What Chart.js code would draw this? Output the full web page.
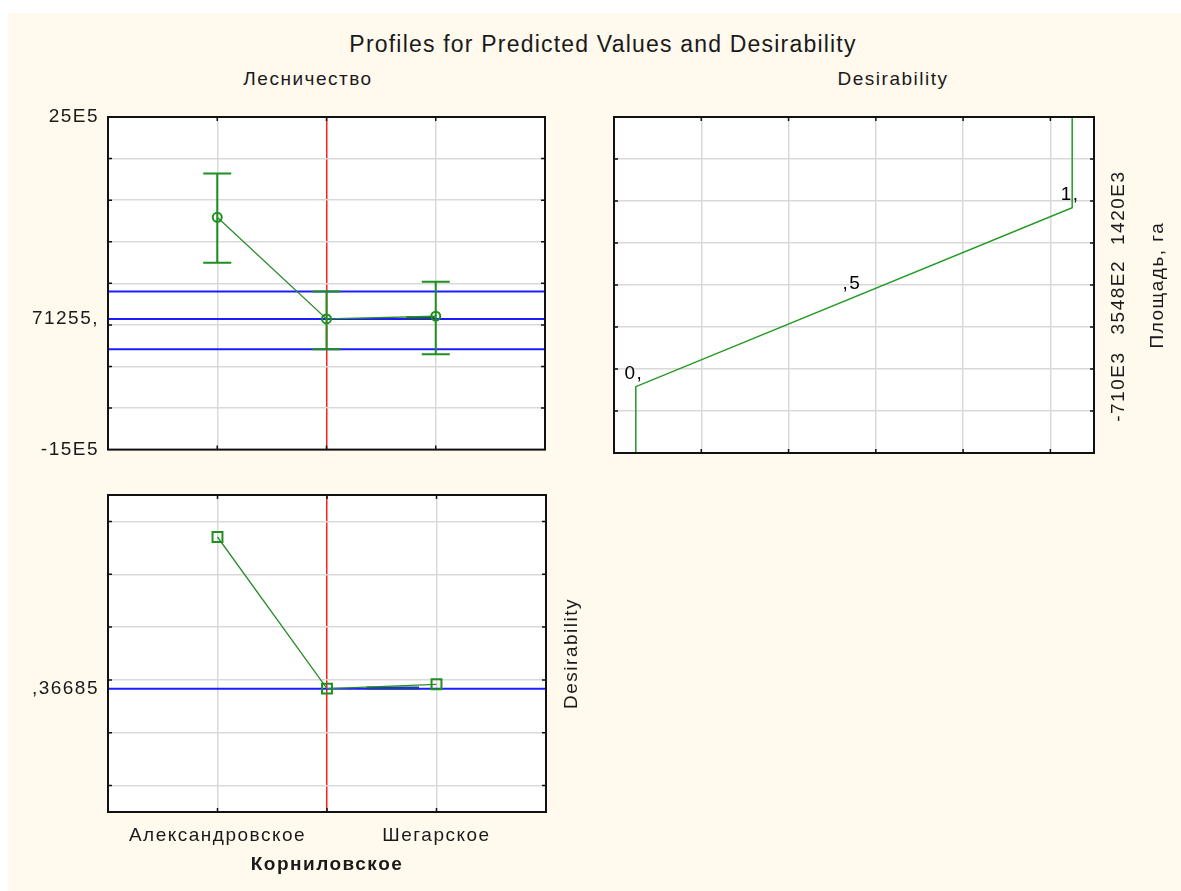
<!DOCTYPE html>
<html>
<head>
<meta charset="utf-8">
<title>Profiles for Predicted Values and Desirability</title>
<script src="https://cdn.jsdelivr.net/npm/chart.js@4.4.1/dist/chart.umd.min.js"></script>
<style>
  html, body { margin: 0; padding: 0; background: #fff; width: 1181px; height: 891px; overflow: hidden; }
  #bg { position: absolute; left: 8px; top: 13px; right: 0; bottom: 0; background: #fff9ee; }
  canvas { position: absolute; }
  .txt { position: absolute; transform: translateX(-50%); white-space: nowrap;
         font-family: "Liberation Sans", Arial, sans-serif; color: #1a1a1a; }
</style>
</head>
<body>
<div id="bg"></div>
<div class="txt" style="left:603px; top:31px; font-size:23px; letter-spacing:1.2px;">Profiles for Predicted Values and Desirability</div>
<div class="txt" style="left:308px; top:68px; font-size:19px; letter-spacing:1.5px;">Лесничество</div>
<div class="txt" style="left:893px; top:68px; font-size:19px; letter-spacing:1.5px;">Desirability</div>
<canvas id="areaChart" width="600" height="470" style="left:0; top:0;"></canvas>
<canvas id="funcChart" width="581" height="470" style="left:600px; top:0;"></canvas>
<canvas id="desirChart" width="600" height="421" style="left:0; top:470px;"></canvas>
<script>
// categories of Лесничество, placed at 1..3 on a 0..4 axis
const categories = ["Александровское", "Корниловское", "Шегарское"];
const catX = [1, 2, 3];
const xMin = 0, xMax = 4;
const currentIdx = 1; // Корниловское is the current level

// Площадь, га : predicted values with confidence limits
const predicted = [1294000, 71255, 104000];
const predLow = [746000, -292000, -354000];
const predHigh = [1821000, 402000, 520000];
const areaMin = -1500000, areaMax = 2500000;
const areaGrid = [-1500000, -1000000, -500000, 0, 500000, 1000000, 1500000, 2000000, 2500000];
const areaTickLabels = { "-1500000": "-15E5", "71255": "71255,", "2500000": "25E5" };

// Desirability of each level
const desirability = [0.941, 0.36685, 0.3835];
const desirMin = -0.1, desirMax = 1.1;
const desirGrid = [0, 0.2, 0.4, 0.6, 0.8, 1.0];
const desirTickLabels = { "0.36685": ",36685" };

// desirability function (desirability vs площадь)
const dfD = [0, 0, 1, 1];
const dfArea = [-1500000, -710000, 1420000, 2500000];
const dfMarkD = [0, 0.5, 1];
const dfMarkArea = [-710000, 354800, 1420000];
const dfMarkText = ["0,", ",5", "1,"];
const dfAxisMin = -0.05, dfAxisMax = 1.05;
const dfGrid = [0.15, 0.35, 0.55, 0.75, 0.95];
const areaRightLabels = ["-710E3", "3548E2", "1420E3"];

// short overlapping line pieces near Шегарское
const stubTopX = [2.73, 2.99], stubTopY = [85000, 85000];
const stubBotX = [2.36, 2.84], stubBotY = [0.369, 0.369];

const FONT = '"Liberation Sans", Arial, sans-serif';
const TEXT = "#1a1a1a";
const GREEN = "#2b8c2b";
const BAR_GREEN = "#1f8f1f";
const BLUE = "#1c1cff";
const RED = "#ff1f1f";
const GRID = "#d9d9d9";
const NONE = "rgba(0,0,0,0)";

Chart.defaults.font.family = FONT;
Chart.defaults.font.size = 19;
Chart.defaults.color = TEXT;

function xy(xs, ys) { return xs.map((x, i) => ({ x, y: ys[i] })); }
function hline(y, x0, x1) { return [{ x: x0, y }, { x: x1, y }]; }

const canvasSetup = {
  id: "canvasSetup",
  beforeDraw(chart) {
    const { ctx, chartArea: a } = chart;
    ctx.letterSpacing = "1.5px";
    ctx.save();
    ctx.fillStyle = "#ffffff";
    ctx.fillRect(a.left, a.top, a.right - a.left, a.bottom - a.top);
    ctx.restore();
  }
};

// black frame with small inward ticks at grid lines
const frame = {
  id: "frame",
  afterDraw(chart, args, opts) {
    const { ctx, chartArea: a, scales } = chart;
    ctx.save();
    ctx.strokeStyle = "#111";
    ctx.lineWidth = 1.5;
    ctx.beginPath();
    (opts.xTicks || []).forEach(v => {
      const px = scales.x.getPixelForValue(v);
      ctx.moveTo(px, a.top); ctx.lineTo(px, a.top + 4);
      ctx.moveTo(px, a.bottom); ctx.lineTo(px, a.bottom - 4);
    });
    (opts.yTicks || []).forEach(v => {
      const py = scales.y.getPixelForValue(v);
      ctx.moveTo(a.left, py); ctx.lineTo(a.left + 4, py);
      ctx.moveTo(a.right, py); ctx.lineTo(a.right - 4, py);
    });
    ctx.stroke();
    ctx.lineWidth = 2;
    ctx.strokeRect(a.left, a.top, a.right - a.left, a.bottom - a.top);
    ctx.restore();
  }
};

// vertical confidence bars, drawn right after the blue lines
const errorBars = {
  id: "errorBars",
  afterDatasetDraw(chart, args, opts) {
    if (!chart.data.datasets[args.index].barsAfter || !opts.x) return;
    const { ctx, scales: { x, y } } = chart;
    ctx.save();
    ctx.strokeStyle = BAR_GREEN;
    ctx.lineWidth = 2;
    ctx.beginPath();
    opts.x.forEach((xv, i) => {
      const px = x.getPixelForValue(xv);
      const top = y.getPixelForValue(opts.high[i]);
      const bot = y.getPixelForValue(opts.low[i]);
      ctx.moveTo(px, top); ctx.lineTo(px, bot);
      ctx.moveTo(px - 14, top); ctx.lineTo(px + 14, top);
      ctx.moveTo(px - 14, bot); ctx.lineTo(px + 14, bot);
    });
    ctx.stroke();
    ctx.restore();
  }
};

// free texts: rotated axis labels and the desirability marks
const notes = {
  id: "notes",
  afterDraw(chart, args, opts) {
    const { ctx, chartArea: a, scales } = chart;
    (opts.items || []).forEach(it => {
      ctx.save();
      ctx.font = (it.weight || "normal") + " " + (it.size || 19) + "px " + FONT;
      ctx.fillStyle = it.color || TEXT;
      ctx.textAlign = "center";
      ctx.textBaseline = "middle";
      const px = it.xv !== undefined ? scales.x.getPixelForValue(it.xv) : a.right;
      const py = it.yv !== undefined ? scales.y.getPixelForValue(it.yv) : (a.top + a.bottom) / 2;
      ctx.translate(px + (it.dx || 0), py + (it.dy || 0));
      if (it.rotate) ctx.rotate(-Math.PI / 2);
      ctx.fillText(it.text, 0, 0);
      ctx.restore();
    });
  }
};

const common = {
  responsive: false,
  animation: false,
  events: []
};

// ---- Площадь vs Лесничество ----
new Chart(document.getElementById("areaChart"), {
  type: "line",
  data: {
    datasets: [
      { data: xy(catX, predicted), borderColor: GREEN, borderWidth: 1.3, tension: 0,
        pointStyle: "circle", pointRadius: 4.5, pointBorderWidth: 2,
        pointBorderColor: BAR_GREEN, pointBackgroundColor: NONE, order: 0 },
      { data: xy(stubTopX, stubTopY), borderColor: "#1b4a5e", borderWidth: 3, pointRadius: 0, order: 1 },
      { data: hline(predHigh[currentIdx], xMin, xMax), borderColor: BLUE, borderWidth: 2, pointRadius: 0, order: 4 },
      { data: hline(predicted[currentIdx], xMin, xMax), borderColor: BLUE, borderWidth: 2, pointRadius: 0, order: 3 },
      { data: hline(predLow[currentIdx], xMin, xMax), borderColor: BLUE, borderWidth: 2, pointRadius: 0, order: 2, barsAfter: true }
    ]
  },
  options: {
    ...common,
    layout: { padding: { top: 117, right: 55, bottom: 17, left: 0 } },
    plugins: {
      legend: { display: false }, tooltip: { enabled: false },
      frame: { xTicks: catX, yTicks: areaGrid.slice(1, -1) },
      errorBars: { x: catX, low: predLow, high: predHigh }
    },
    scales: {
      x: {
        type: "linear", min: xMin, max: xMax,
        afterBuildTicks: s => { s.ticks = catX.map(v => ({ value: v })); },
        afterFit: s => { s.height = 0; },
        ticks: { display: false },
        border: { display: false },
        grid: { drawTicks: false, lineWidth: 1.5,
                color: c => c.tick.value === catX[currentIdx] ? RED : GRID }
      },
      y: {
        min: areaMin, max: areaMax,
        afterBuildTicks: s => { s.ticks = areaGrid.concat([predicted[currentIdx]]).map(v => ({ value: v })); },
        afterFit: s => { s.width = 108; },
        border: { display: false },
        grid: { drawTicks: false, lineWidth: 1.5,
                color: c => areaGrid.includes(c.tick.value) ? GRID : NONE },
        ticks: { autoSkip: false, padding: 9, callback: v => areaTickLabels[String(v)] || "" }
      }
    }
  },
  plugins: [canvasSetup, errorBars, frame]
});

// ---- desirability function ----
const funcNotes = dfMarkD.map((d, i) => ({ xv: d, yv: dfMarkArea[i], dx: -2, dy: -13, text: dfMarkText[i], color: "#000" }))
  .concat(dfMarkArea.map((v, i) => ({ yv: v, dx: 25, rotate: true, text: areaRightLabels[i] })))
  .concat([{ dx: 64, rotate: true, text: "Площадь, га" }]);

new Chart(document.getElementById("funcChart"), {
  type: "line",
  data: {
    datasets: [
      { data: xy(dfD, dfArea), borderColor: "#229a22", borderWidth: 1.5, pointRadius: 0, tension: 0 }
    ]
  },
  options: {
    ...common,
    layout: { padding: { top: 117, right: 87, bottom: 17, left: 14 } },
    plugins: {
      legend: { display: false }, tooltip: { enabled: false },
      frame: { xTicks: dfGrid, yTicks: areaGrid.slice(1, -1) },
      notes: { items: funcNotes }
    },
    scales: {
      x: {
        type: "linear", min: dfAxisMin, max: dfAxisMax,
        afterBuildTicks: s => { s.ticks = dfGrid.map(v => ({ value: v })); },
        afterFit: s => { s.height = 0; },
        ticks: { display: false },
        border: { display: false },
        grid: { drawTicks: false, lineWidth: 1.5, color: GRID }
      },
      y: {
        position: "right",
        min: areaMin, max: areaMax,
        afterBuildTicks: s => { s.ticks = areaGrid.map(v => ({ value: v })); },
        afterFit: s => { s.width = 0; },
        ticks: { display: false },
        border: { display: false },
        grid: { drawTicks: false, lineWidth: 1.5, color: GRID }
      }
    }
  },
  plugins: [canvasSetup, frame, notes]
});

// ---- Desirability vs Лесничество ----
new Chart(document.getElementById("desirChart"), {
  type: "line",
  data: {
    datasets: [
      { data: xy(catX, desirability), borderColor: GREEN, borderWidth: 1.3, tension: 0,
        pointStyle: "rect", pointRadius: 7, pointBorderWidth: 2,
        pointBorderColor: BAR_GREEN, pointBackgroundColor: NONE, order: 0 },
      { data: xy(stubBotX, stubBotY), borderColor: "#1b3f9a", borderWidth: 3, pointRadius: 0, order: 1 },
      { data: hline(desirability[currentIdx], xMin, xMax), borderColor: BLUE, borderWidth: 2, pointRadius: 0, order: 2 }
    ]
  },
  options: {
    ...common,
    layout: { padding: { top: 25, right: 54, bottom: 0, left: 0 } },
    plugins: {
      legend: { display: false }, tooltip: { enabled: false },
      frame: { xTicks: catX, yTicks: desirGrid },
      notes: { items: [{ dx: 26, rotate: true, text: "Desirability" }] }
    },
    scales: {
      x: {
        type: "linear", min: xMin, max: xMax,
        afterBuildTicks: s => { s.ticks = catX.map(v => ({ value: v })); },
        afterFit: s => { s.height = 79; },
        border: { display: false },
        grid: { drawTicks: false, lineWidth: 1.5,
                color: c => c.tick.value === catX[currentIdx] ? RED : GRID },
        ticks: { autoSkip: false, maxRotation: 0, minRotation: 0, padding: 12,
                 callback: v => { const i = catX.indexOf(v); return i >= 0 && i !== currentIdx ? categories[i] : ""; } },
        title: { display: true, text: categories[currentIdx], font: { weight: "bold", size: 19 },
                 padding: { top: 0, bottom: 15 } }
      },
      y: {
        min: desirMin, max: desirMax,
        afterBuildTicks: s => { s.ticks = desirGrid.concat([desirability[currentIdx]]).map(v => ({ value: v })); },
        afterFit: s => { s.width = 108; },
        border: { display: false },
        grid: { drawTicks: false, lineWidth: 1.5,
                color: c => desirGrid.includes(c.tick.value) ? GRID : NONE },
        ticks: { autoSkip: false, padding: 9, callback: v => desirTickLabels[String(v)] || "" }
      }
    }
  },
  plugins: [canvasSetup, frame, notes]
});
</script>
</body>
</html>
